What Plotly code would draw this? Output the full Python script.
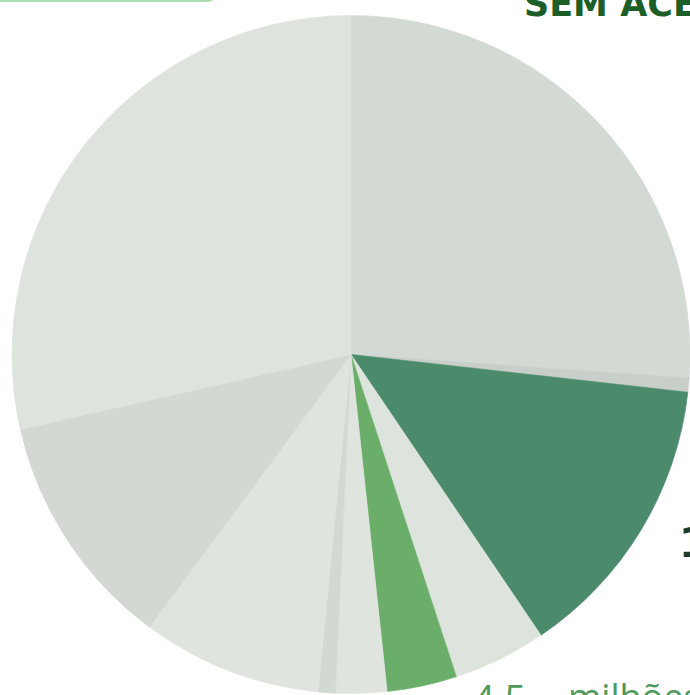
import plotly.graph_objects as go

# ---- data (values in millions) ----
labels = ["Grupo A", "Grupo B", "Grupo C", "Grupo D", "Grupo E",
          "Grupo F", "Grupo G", "Grupo H", "Grupo I", "Grupo J"]
values = [35.3, 0.9, 18.6, 6.0, 4.5, 3.3, 1.1, 11.6, 15.3, 38.6]
colors = ["#d3d9d3", "#c8cec8", "#4b8b6b", "#dde3dd", "#6aae6a",
          "#dfe4df", "#d2d8d2", "#dfe4de", "#d3d8d2", "#dee3dd"]

title_text = "SEM ACESSO"
label_big = "18,6 milhões"
label_num = "4,5"
label_unit = "milhões"

W, H = 690, 695
ML, MT = 12, 14
PW, PH = W - ML, H - MT


def px(x):
    return (x - ML) / PW


def py(y):
    return 1 - (y - MT) / PH


fig = go.Figure(go.Pie(
    labels=labels, values=values, sort=False, direction="clockwise",
    rotation=0, textinfo="none", hoverinfo="label+value",
    marker=dict(colors=colors, line=dict(color=colors, width=0.6)),
    showlegend=False,
))

# green rounded box at top left (cut off)
fig.add_shape(type="path", xref="paper", yref="paper",
              path=f"M {px(-10)},{py(1)} L {px(205)},{py(1)} "
                   f"Q {px(218)},{py(1)} {px(218)},{py(-12)}",
              line=dict(color="#aadcb3", width=2))

fig.add_annotation(text=f"<b>{title_text}</b>", xref="paper", yref="paper",
                   x=px(522), y=py(-18), xanchor="left", yanchor="top",
                   showarrow=False, font=dict(family="DejaVu Sans", size=35, color="#1b5e27"))
fig.add_annotation(text=f"<b>{label_big}</b>", xref="paper", yref="paper",
                   x=px(677), y=py(518), xanchor="left", yanchor="top",
                   showarrow=False, font=dict(family="DejaVu Sans", size=40, color="#1f3b2b"))
fig.add_annotation(text=label_num, xref="paper", yref="paper",
                   x=px(471), y=py(670), xanchor="left", yanchor="top",
                   showarrow=False, font=dict(family="Open Sans", size=38, color="#4f9a5c"))
fig.add_annotation(text=label_unit, xref="paper", yref="paper",
                   x=px(566), y=py(670), xanchor="left", yanchor="top",
                   showarrow=False, font=dict(family="Open Sans", size=36, color="#4f9a5c"))

fig.update_layout(width=W, height=H, margin=dict(l=ML, r=0, t=MT, b=0),
                  paper_bgcolor="white", plot_bgcolor="white")

fig.write_html("out.html", config={"displayModeBar": False},
               post_script="document.body.style.margin='0';")
